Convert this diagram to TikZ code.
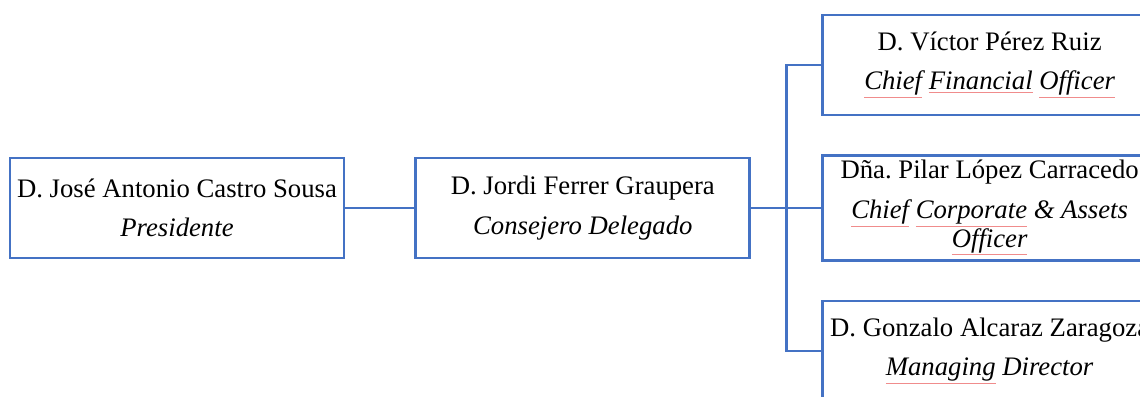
\documentclass[tikz,border=0pt]{standalone}
\usepackage{fontspec}
\setmainfont{Liberation Serif}
\usepackage{tikz}
\usetikzlibrary{positioning}
\definecolor{boxblue}{RGB}{68,114,196}
\definecolor{spellred}{RGB}{240,140,140}
\newcommand{\spellmark}[1]{{\color{spellred}\underline{\color{black}#1}}}

\begin{document}
\begin{tikzpicture}
            [-, semithick,
            person/.style={rectangle, align=center, draw=boxblue, fill=white,
                line width=2pt, minimum width=8.35cm, minimum height=2.5cm,
                font=\fontsize{19}{19}\selectfont\frenchspacing},
            link/.style={draw=boxblue, line width=2pt}]

            \useasboundingbox (0,0) rectangle (28.5,9.9);
            \clip (0,0) rectangle (28.5,9.9);

            \node[person] (pres) at (4.425,4.7)
                {D. José Antonio Castro Sousa\\[9pt]\textit{Presidente}};
            \node[person] (ceo) [right = 1.725cm of pres]
                {D. Jordi Ferrer Graupera\\[9pt]\textit{Consejero Delegado}};
            \node[person] (cca) [right = 1.75cm of ceo]
                {Dña. Pilar López Carracedo\\[9pt]\textit{\spellmark{Chief} \spellmark{Corporate} \& Assets}\\\textit{\spellmark{Officer}}};
            \node[person] (cfo) [above = 0.95cm of cca]
                {D. Víctor Pérez Ruiz\\[9pt]\textit{\spellmark{Chief} \spellmark{Financial} \spellmark{Officer}}};
            \node[person] (md) [below = 0.95cm of cca]
                {D. Gonzalo Alcaraz Zaragoza\\[9pt]\textit{\spellmark{Managing} Director}};

            \coordinate[right = 0.875cm of ceo.east] (bus);

            \draw[link] (pres) -- (ceo);
            \draw[link] (ceo) -- (bus);
            \draw[link] (bus) -- (cca);
            \draw[link] (bus) |- (cfo);
            \draw[link] (bus) |- (md);
\end{tikzpicture}
\end{document}
